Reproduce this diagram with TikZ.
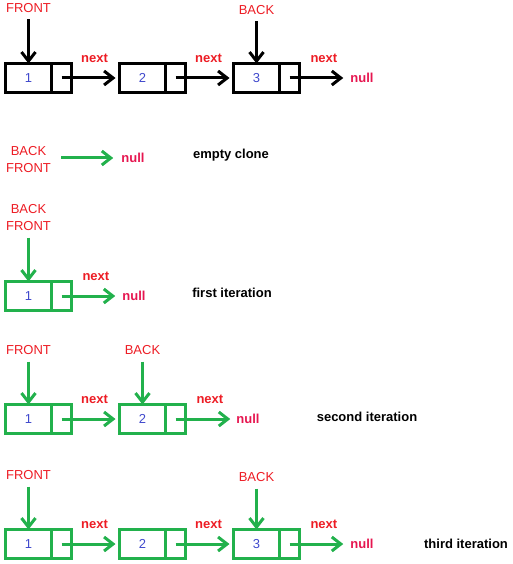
\documentclass[tikz,border=0pt]{standalone}
\usepackage{fontspec}
\setmainfont{Liberation Sans}
\usetikzlibrary{positioning,arrows.meta}

\definecolor{paintred}{RGB}{237,28,36}
\definecolor{nullred}{RGB}{230,22,80}
\definecolor{paintgreen}{RGB}{34,177,76}
\definecolor{numblue}{RGB}{63,72,204}

\tikzset{
	datacell/.style={draw, line width=3pt, minimum width=46pt, minimum height=29pt, inner sep=0pt, outer sep=0pt, text=numblue, font=\fontsize{13}{15}\selectfont},
	linkcell/.style={draw, line width=3pt, minimum width=20pt, minimum height=29pt, inner sep=0pt, outer sep=0pt},
	pointer/.style={line width=3pt, -{Straight Barb[length=9pt,width=14pt]}},
	link/.style={pointer, shorten >=4pt},
	refname/.style={text=paintred, inner sep=0pt, align=center, font=\fontsize{13}{17}\selectfont},
	nextlbl/.style={text=paintred, inner sep=0pt, midway, above=14pt, xshift=4pt, font=\bfseries\fontsize{13}{15}\selectfont},
	nulllbl/.style={text=nullred, inner sep=0pt, font=\bfseries\fontsize{13}{15}\selectfont},
	caption/.style={text=black, inner sep=0pt, font=\bfseries\fontsize{13}{15}\selectfont}
}

\begin{document}
\begin{tikzpicture}[x=1pt, y=-1pt]
	\useasboundingbox (0,0) rectangle (512,564);

	% original list
	\foreach \i in {1,2,3} {
		\node[datacell] (a\i) at ({28.5+114*(\i-1)},78) {\i};
		\node[linkcell, right=0pt of a\i] (pa\i) {};
	}
	\node[refname, above=51pt of a1] (fa) {FRONT};
	\node[refname, above=49pt of a3] (ba) {BACK};
	\draw[pointer, shorten <=7pt] (fa) -- (a1);
	\draw[pointer, shorten <=7pt] (ba) -- (a3);
	\node[nulllbl] (za) at (362,78) {null};
	\draw[link] (pa1.center) -- node[nextlbl] (na1) {next} (a2.west);
	\draw[link] (pa2.center) -- node[nextlbl] (na2) {next} (a3.west);
	\draw[link, shorten >=7pt] (pa3.center) -- node[nextlbl] (na3) {next} (za.west);

	\begin{scope}[paintgreen]
		% empty clone
		\node[refname] (bfb) at (28.5,159.5) {BACK\\FRONT};
		\node[nulllbl] (zb) at (133,158) {null};
		\draw[pointer, shorten <=10pt, shorten >=8pt] (bfb.east |- zb.west) -- (zb.west);
		\node[caption] (cb) at (231,155) {empty clone};

		% first iteration
		\node[datacell] (c1) at (28.5,296) {1};
		\node[linkcell, right=0pt of c1] (pc1) {};
		\node[refname, above=51pt of c1] (bfc) {BACK\\FRONT};
		\draw[pointer, shorten <=7pt] (bfc) -- (c1);
		\node[nulllbl] (zc) at (134,296) {null};
		\draw[link, shorten >=7pt] (pc1.center) -- node[nextlbl] (nc1) {next} (zc.west);
		\node[caption] (cc) at (232,293) {first iteration};

		% second iteration
		\foreach \i in {1,2} {
			\node[datacell] (d\i) at ({28.5+114*(\i-1)},419) {\i};
			\node[linkcell, right=0pt of d\i] (pd\i) {};
		}
		\node[refname, above=50pt of d1] (fd) {FRONT};
		\node[refname, above=50pt of d2] (bd) {BACK};
		\draw[pointer, shorten <=7pt] (fd) -- (d1);
		\draw[pointer, shorten <=7pt] (bd) -- (d2);
		\node[nulllbl] (zd) at (248,419) {null};
		\draw[link] (pd1.center) -- node[nextlbl] (nd1) {next} (d2.west);
		\draw[link, shorten >=6pt] (pd2.center) -- node[nextlbl] (nd2) {next} (zd.west);
		\node[caption] (cd) at (367,417) {second iteration};

		% third iteration
		\foreach \i in {1,2,3} {
			\node[datacell] (e\i) at ({28.5+114*(\i-1)},544) {\i};
			\node[linkcell, right=0pt of e\i] (pe\i) {};
		}
		\node[refname, above=50pt of e1] (fe) {FRONT};
		\node[refname, above=48pt of e3] (be) {BACK};
		\draw[pointer, shorten <=7pt] (fe) -- (e1);
		\draw[pointer, shorten <=7pt] (be) -- (e3);
		\node[nulllbl] (ze) at (362,544) {null};
		\draw[link] (pe1.center) -- node[nextlbl] (ne1) {next} (e2.west);
		\draw[link] (pe2.center) -- node[nextlbl] (ne2) {next} (e3.west);
		\draw[link, shorten >=7pt] (pe3.center) -- node[nextlbl] (ne3) {next} (ze.west);
		\node[caption] (ce) at (466,544) {third iteration};
	\end{scope}
\end{tikzpicture}
\end{document}
